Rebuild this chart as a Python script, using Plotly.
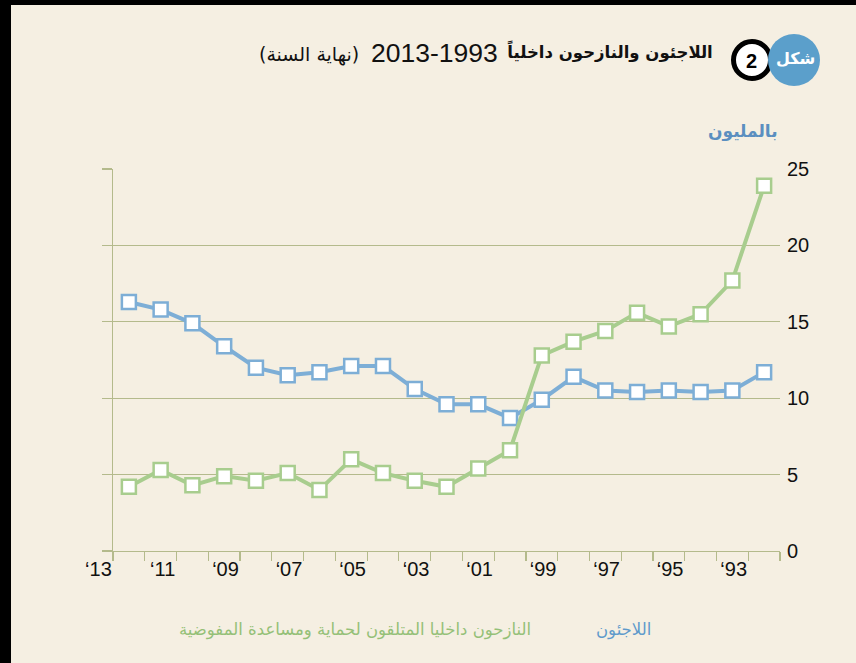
import plotly.graph_objects as go

# ---- data ----
year_labels = ["‘13", "‘11", "‘09", "‘07", "‘05", "‘03", "‘01", "‘99", "‘97", "‘95", "‘93"]
refugees = [16.3, 15.8, 14.9, 13.4, 12.0, 11.5, 11.7, 12.1, 12.1, 10.6, 9.6,
            9.6, 8.7, 9.9, 11.4, 10.5, 10.4, 10.5, 10.4, 10.5, 11.7]
idps = [4.2, 5.3, 4.3, 4.9, 4.6, 5.1, 4.0, 6.0, 5.1, 4.6, 4.2,
        5.4, 6.6, 12.8, 13.7, 14.4, 15.6, 14.7, 15.5, 17.7, 23.9]
y_ticks = [0, 5, 10, 15, 20, 25]

name_ref = "اللاجئون"
name_idp = "النازحون داخليا المتلقون لحماية ومساعدة المفوضية"
title_bold = "اللاجئون والنازحون داخلياً"
title_years = "2013-1993"
title_note = "(نهاية السنة)"
unit_label = "بالمليون"
fig_word = "شكل"
fig_num = "2"

# ---- style ----
BG = "#F5EFE2"
GRID = "#B4BA8C"
BLUE = "#7DAED6"
GREEN = "#A8CD8E"
BLUE_TXT = "#5E9ACB"
GREEN_TXT = "#94C077"
W_FIG, H_FIG = 856, 663
L, R, T, B = 113, 780, 169, 551
PW, PH = R - L, B - T

def fx(x):
    return (x - L) / PW

def fy(y):
    return (B - y) / PH

n = len(refugees)
xpos = [i + 0.5 for i in range(n)]

fig = go.Figure()
for vals, col, nm in [(refugees, BLUE, name_ref), (idps, GREEN, name_idp)]:
    fig.add_trace(go.Scatter(
        x=xpos, y=vals, mode="lines+markers", name=nm,
        line=dict(color=col, width=4),
        marker=dict(symbol="square", size=14, color="white",
                    line=dict(color=col, width=2.5)),
        showlegend=False, hoverinfo="skip"))

tick_font = dict(family="Liberation Sans, Arial", size=20, color="#111111")

fig.update_layout(
    width=W_FIG, height=H_FIG,
    paper_bgcolor=BG, plot_bgcolor=BG,
    margin=dict(l=L, r=W_FIG - R, t=T, b=H_FIG - B),
    xaxis=dict(range=[0, n], tickmode="array",
               tickvals=[2 * i for i in range(len(year_labels))],
               ticktext=year_labels, ticks="outside", ticklen=9,
               tickcolor=GRID, tickwidth=1.2,
               minor=dict(dtick=1, tick0=0, ticks="outside", ticklen=9,
                          tickcolor=GRID, tickwidth=1.2, showgrid=False),
               ticklabelposition="outside left",
               showgrid=False, zeroline=False, showline=True,
               linecolor=GRID, linewidth=1.2, tickfont=tick_font,
               fixedrange=True),
    yaxis=dict(range=[0, 25], tickvals=y_ticks, showticklabels=False,
               ticks="outside", ticklen=10, tickcolor=GRID, tickwidth=1.2,
               showgrid=True, gridcolor=GRID, gridwidth=1.2,
               zeroline=False, showline=True, linecolor=GRID, linewidth=1.2,
               side="left", fixedrange=True),
    yaxis2=dict(range=[0, 25], tickvals=y_ticks, overlaying="y",
                matches="y", side="right", showgrid=False, zeroline=False,
                showline=False, ticks="", tickfont=tick_font,
                ticklabelstandoff=6, fixedrange=True),
)
# invisible trace so the right axis renders
fig.add_trace(go.Scatter(x=[xpos[0]], y=[refugees[0]], yaxis="y2",
                         mode="markers", marker=dict(opacity=0),
                         showlegend=False, hoverinfo="skip"))

shapes = [
    # black frame edges
    dict(type="rect", xref="paper", yref="paper", x0=fx(0), x1=fx(11),
         y0=fy(H_FIG), y1=fy(0), fillcolor="black", line=dict(width=0)),
    dict(type="rect", xref="paper", yref="paper", x0=fx(0), x1=fx(W_FIG),
         y0=fy(5), y1=fy(0), fillcolor="black", line=dict(width=0)),
    # black ring with number
    dict(type="circle", xref="paper", yref="paper",
         x0=fx(752 - 18.5), x1=fx(752 + 18.5), y0=fy(60 + 18.5), y1=fy(60 - 18.5),
         fillcolor="white", line=dict(color="black", width=5)),
    # blue badge
    dict(type="circle", xref="paper", yref="paper",
         x0=fx(794 - 26), x1=fx(794 + 26), y0=fy(60 + 26), y1=fy(60 - 26),
         fillcolor="#5B9FCB", line=dict(width=0)),
]
fig.update_layout(shapes=shapes)

ar_font = "DejaVu Sans, Noto Sans, sans-serif"
ann = [
    dict(text="<b>" + fig_word + "</b>", x=fx(795), y=fy(58), xanchor="center",
         yanchor="middle", font=dict(family=ar_font, size=16, color="white"),
         showarrow=False),
    dict(text="<b>" + fig_num + "</b>", x=fx(751), y=fy(61), xanchor="center",
         yanchor="middle", font=dict(family="Liberation Sans, Arial", size=20,
                                     color="black"), showarrow=False),
    dict(text="<b>" + title_bold + "</b>", x=fx(715), y=fy(52), xanchor="right",
         yanchor="middle", font=dict(family=ar_font, size=16.5, color="#111111"),
         showarrow=False),
    dict(text=title_years, x=fx(500), y=fy(53), xanchor="right",
         yanchor="middle", font=dict(family="Liberation Sans, Arial", size=26.5,
                                     color="#111111"), showarrow=False),
    dict(text=title_note, x=fx(361), y=fy(54), xanchor="right",
         yanchor="middle", font=dict(family=ar_font, size=19, color="#111111"),
         showarrow=False),
    dict(text="<b>" + unit_label + "</b>", x=fx(780), y=fy(131), xanchor="right",
         yanchor="middle", font=dict(family=ar_font, size=17, color="#5B8FC0"),
         showarrow=False),
    dict(text=name_ref, x=fx(653), y=fy(630), xanchor="right", yanchor="middle",
         font=dict(family=ar_font, size=16.5, color=BLUE_TXT), showarrow=False),
    dict(text=name_idp, x=fx(533), y=fy(630), xanchor="right", yanchor="middle",
         font=dict(family=ar_font, size=16.5, color=GREEN_TXT), showarrow=False),
]
for a in ann:
    a.update(xref="paper", yref="paper")
fig.update_layout(annotations=ann)

fig.write_html("out.html",
               config={"displayModeBar": False, "staticPlot": True},
               post_script="document.body.style.margin='0';"
                           "document.body.style.overflow='hidden';")
